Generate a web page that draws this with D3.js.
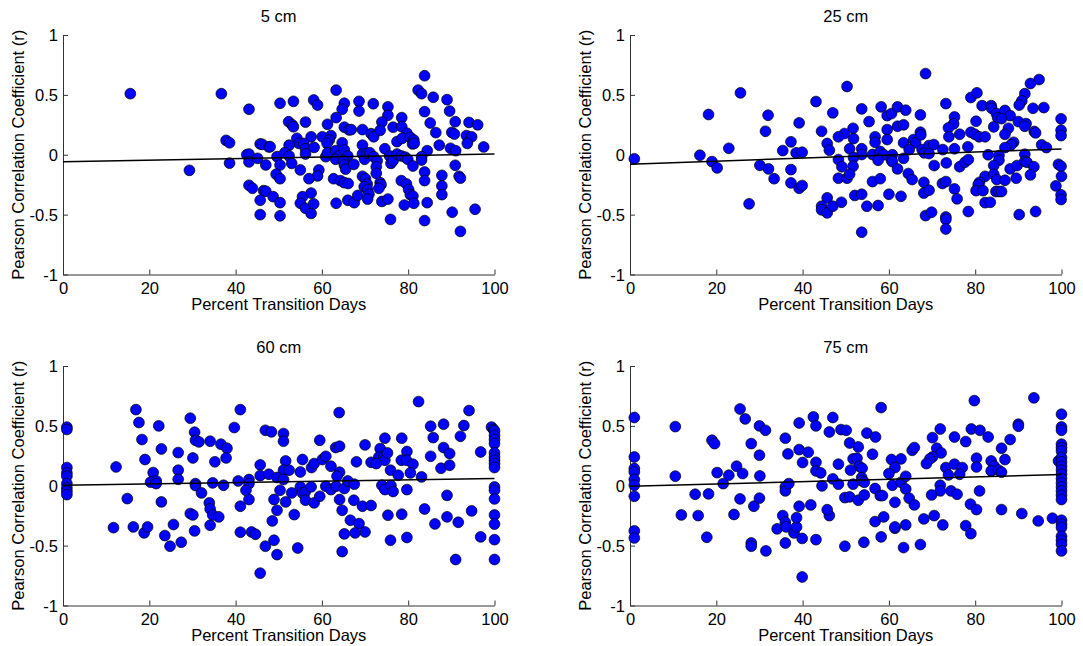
<!DOCTYPE html>
<html>
<head>
<meta charset="utf-8">
<script src="https://cdn.jsdelivr.net/npm/d3@7"></script>
<style>
  body { margin: 0; background: #fff; }
  svg { display: block; font-family: "Liberation Sans", Arial, sans-serif; }
</style>
</head>
<body>
<div id="chart"></div>
<script>
// 2x2 scatter panels: Pearson r vs percent transition days, by depth.
// Points as [percent, r].

const titles = ["5 cm", "25 cm", "60 cm", "75 cm"];
const xTicks = [0, 20, 40, 60, 80, 100];
const yTicks = [-1, -0.5, 0, 0.5, 1];

// linear fit lines, r = a + b*x
const fitIntercepts = [-0.058, -0.079, 0.004, -0.005];
const fitSlopes     = [0.00064, 0.00128, 0.00056, 0.00098];

const pts5cm = [
  [15.6,0.51],[36.7,0.51],[43.1,0.38],[37.8,0.12],[38.6,0.10],[29.3,-0.13],[38.6,-0.07],[45.7,0.09],[46.2,0.087],[47.7,0.065],
  [42.6,0.0],[43.1,0.006],[43.1,-0.06],[45.1,-0.03],[47,-0.085],[43.1,-0.255],[43.9,-0.28],[46.5,-0.30],[47,-0.305],[45.7,-0.38],[45.7,-0.50],
  [83.8,0.66],[63.3,0.54],[82.3,0.54],[83.1,0.51],[85.8,0.48],[89,0.46],[50.3,0.43],[53.4,0.446],[58.1,0.457],[59,0.415],
  [65.2,0.43],[64.7,0.38],[68.6,0.446],[68.6,0.365],[71.9,0.426],[75.3,0.40],[75.3,0.33],[89.6,0.365],[83.8,0.36],[63.3,0.31],
  [78.5,0.31],[52.3,0.276],[53.1,0.25],[53.4,0.234],[56.2,0.273],[61.3,0.254],[73.9,0.273],[85.1,0.265],[90.9,0.276],[94.1,0.27],
  [96.1,0.25],[65.2,0.23],[66.3,0.207],[66.8,0.21],[69.4,0.21],[71.4,0.176],[72,0.15],[73.5,0.204],[76.5,0.23],[78.5,0.234],
  [79.7,0.18],[86.4,0.185],[90.1,0.187],[90.7,0.173],[93.5,0.16],[94.7,0.15],[54.2,0.137],[57.5,0.15],[60.1,0.15],[62.1,0.16],
  [54.7,0.095],[55.8,0.095],[56.2,0.05],[56.2,0.006],[58.2,0.062],[52.4,0.08],[61.7,0.123],[61.2,0.095],[64.7,0.1],[69.4,0.08],
  [77.4,0.11],[78.6,0.137],[80.5,0.145],[81.3,0.123],[81,0.09],[81.4,0.095],[84.4,0.034],[87.2,0.08],[89.8,0.054],[91,0.034],
  [97.5,0.065],[93.7,0.095],[48,0.067],[49.6,-0.016],[51.4,0.017],[52.4,-0.01],[50.3,-0.086],[53,-0.072],[55,-0.127],[60.9,-0.016],
  [61.3,0.017],[63.2,0.034],[64,-0.01],[65.2,0.04],[66,-0.01],[63.2,-0.038],[65,-0.05],[65.2,-0.086],[65.5,-0.12],[67.4,-0.08],
  [69.4,0.006],[69.9,-0.038],[70.5,0.012],[71.1,0.017],[72,-0.016],[72.8,-0.05],[72.6,-0.1],[72.6,-0.155],[74.6,0.05],[75.7,-0.01],
  [76,-0.072],[76.5,-0.05],[77.4,0.006],[78.4,-0.01],[79.3,-0.02],[79.9,-0.038],[81.1,-0.094],[83.1,-0.016],[83.1,-0.044],[90.9,-0.088],
  [62.7,-0.2],[64.3,-0.216],[65.2,-0.233],[66.1,-0.24],[59.3,-0.127],[59,-0.177],[57,-0.2],[49.4,-0.163],[50.3,-0.2],[69.4,-0.18],
  [70.1,-0.2],[70.5,-0.245],[69.8,-0.267],[70.6,-0.29],[70.9,-0.33],[73.5,-0.233],[73.7,-0.25],[73.2,-0.28],[78.4,-0.216],[79.6,-0.244],
  [80.1,-0.29],[80.5,-0.333],[81.1,-0.345],[81.3,-0.405],[83.8,-0.144],[83.8,-0.216],[87.8,-0.172],[87.8,-0.26],[87.8,-0.333],[91.8,-0.18],
  [92.1,-0.195],[48.7,-0.35],[50.3,-0.4],[50.3,-0.51],[55.5,-0.35],[55,-0.405],[56.2,-0.447],[57.5,-0.49],[58.1,-0.41],[57.5,-0.32],
  [63.3,-0.405],[66,-0.38],[67.5,-0.4],[68.3,-0.34],[70.6,-0.37],[73.9,-0.39],[75.3,-0.37],[75.9,-0.54],[79.1,-0.42],[84.4,-0.4],
  [83.8,-0.55],[90.2,-0.48],[95.5,-0.455],[92.1,-0.64]
];

const pts25cm = [
  [1,-0.034],[16.2,-0.004],[18.2,0.336],[19,-0.057],[20.2,-0.11],[22.9,0.054],[25.6,0.517],[27.6,-0.41],[30.1,-0.088],[31.4,0.196],
  [32,0.33],[32.1,-0.118],[33.4,-0.2],[35.4,0.035],[37.3,0.108],[37.3,-0.124],[37.3,-0.235],[38.5,0.016],[39.9,0.021],[39.2,0.266],
  [39.2,-0.28],[39.9,-0.257],[43.1,0.444],[44.4,0.196],[45.7,0.094],[46.2,0.038],[45.7,-0.36],[44.4,-0.43],[44.4,-0.46],[45.7,-0.485],
  [68.5,0.678],[50.3,0.57],[94.8,0.628],[92.8,0.595],[91.5,0.51],[90.8,0.45],[90.2,0.415],[79,0.478],[80.4,0.517],[47,0.35],
  [53.7,0.383],[58.2,0.4],[59.6,0.327],[60.6,0.344],[62,0.4],[63.9,0.372],[67.3,0.333],[73.2,0.427],[75.2,0.316],[75,0.258],
  [81.6,0.41],[83.7,0.41],[83.8,0.388],[84.9,0.344],[85.2,0.31],[86.9,0.37],[88.1,0.327],[86.1,0.302],[93.4,0.388],[95.9,0.394],
  [99.9,0.3],[55.4,0.277],[51.7,0.221],[49.7,0.177],[48.3,0.15],[51.8,0.135],[56.8,0.15],[56.8,0.104],[59.6,0.21],[59.6,0.127],
  [62,0.238],[63.4,0.25],[63.4,0.1],[65.7,0.127],[66.2,0.1],[67.3,0.188],[67.4,0.166],[73.8,0.225],[73.9,0.15],[76.4,0.171],
  [79,0.188],[79.9,0.171],[80.9,0.15],[82.3,0.15],[80.2,0.28],[84.3,0.233],[87.7,0.221],[86.9,0.171],[90,0.277],[91.8,0.26],
  [91.5,0.238],[93.7,0.194],[94,0.183],[99.9,0.205],[99.9,0.16],[88.9,0.104],[88.3,0.083],[86.9,0.06],[95.4,0.083],[96.5,0.06],
  [50.9,0.05],[53.7,0.05],[53.7,0.002],[56.2,0.002],[58,0.027],[58.8,0],[57.5,-0.046],[60.8,0],[60.6,-0.046],[63.4,-0.03],
  [64.7,0.043],[67.7,0.043],[68.2,0.016],[69.3,0.077],[69.3,0.01],[70.4,0.085],[72.5,0.043],[75.2,0.05],[78.3,0.066],[48.3,-0.04],
  [51.8,-0.023],[51.7,-0.096],[49.1,-0.1],[60.8,-0.057],[62,-0.118],[70.5,-0.09],[73.3,-0.068],[76.4,-0.1],[77.6,-0.063],[78.4,-0.04],
  [83,0],[85.5,-0.007],[85.5,-0.046],[84.3,-0.09],[88.1,-0.118],[89.7,-0.09],[91.5,0.004],[91.5,-0.054],[92,-0.063],[93.6,-0.1],
  [92.8,-0.168],[99.3,-0.08],[99.9,-0.096],[100,-0.18],[98.7,-0.26],[99.9,-0.335],[99.9,-0.374],[48.3,-0.196],[50.3,-0.196],[50.9,-0.163],
  [56.2,-0.224],[58,-0.2],[64.5,-0.157],[65.4,-0.207],[68.1,-0.23],[68.1,-0.32],[69.3,-0.296],[72.4,-0.24],[73.2,-0.224],[75.2,-0.285],
  [75.8,-0.368],[82.3,-0.18],[81,-0.23],[80.7,-0.25],[80.2,-0.3],[81.8,-0.3],[84.3,-0.163],[85,-0.207],[86.9,-0.213],[84.8,-0.307],
  [85.5,-0.307],[86.1,-0.307],[89.5,-0.196],[47,-0.43],[49,-0.397],[52.1,-0.34],[53.7,-0.33],[54.9,-0.43],[57.5,-0.424],[60,-0.33],
  [62.8,-0.347],[68.5,-0.508],[69.9,-0.48],[73.2,-0.52],[73.2,-0.54],[73.2,-0.62],[78.4,-0.474],[82.3,-0.4],[83.5,-0.397],[90.2,-0.5],
  [94,-0.474],[53.7,-0.647]
];

const pts60cm = [
  [0.9,0.49],[0.9,0.47],[0.9,0.152],[0.9,0.107],[0.9,0.08],[0.9,0.018],[0.9,-0.018],[0.9,-0.046],[0.9,-0.074],[12.3,0.157],
  [11.7,-0.35],[14.9,-0.107],[16.3,-0.344],[16.9,0.636],[17.6,0.528],[18.3,0.386],[19,0.219],[18.8,-0.394],[19.6,-0.344],[20.9,0.11],
  [20.3,0.03],[21.6,0.04],[21.6,0.018],[22.2,0.5],[22.8,0.307],[22.8,-0.135],[23.6,-0.416],[24.8,-0.505],[25.6,-0.324],[26.7,0.277],
  [26.7,0.13],[26.7,0.054],[27.4,-0.472],[29.5,0.564],[30.5,0.447],[30.7,0.38],[31.5,0.366],[30.1,0.232],[30.7,0.018],[30.7,0.002],
  [32.1,-0.06],[29.5,-0.232],[30.1,-0.244],[30.5,-0.377],[34.1,0.372],[35.2,0.2],[34.7,0.024],[33.9,-0.143],[34.1,-0.194],[34.7,-0.244],
  [36.1,-0.26],[34.1,-0.33],[36.6,0.347],[38,0.313],[37.8,0.232],[37.2,0.004],[39.7,0.486],[41.1,0.636],[40.6,0.04],[41.1,-0.171],
  [41.1,-0.388],[43.1,0.052],[43.1,0.018],[42.4,-0.038],[43.1,-0.115],[43.7,-0.386],[44.6,-0.405],[45.7,0.174],[45.7,0.085],[47.7,0.096],
  [46.9,0.463],[48.3,0.45],[46.9,-0.505],[45.7,-0.73],
  [82.4,0.703],[64,0.611],[94.1,0.628],[85.2,0.497],[88.2,0.514],[85.8,0.402],[92.9,0.503],[92.1,0.413],[51.1,0.436],[51.1,0.372],
  [59.5,0.38],[63.2,0.319],[64.1,0.33],[70,0.341],[74.6,0.397],[73.5,0.31],[73.2,0.24],[74.3,0.24],[74.6,0.213],[75.2,0.274],
  [78.5,0.397],[79.7,0.286],[78.4,0.213],[79.6,0.213],[81.1,0.18],[88.2,0.319],[89.6,0.269],[85.2,0.246],[87.6,0.146],[89.6,0.171],
  [96.8,0.282],[51.6,0.207],[51.1,0.13],[52.4,0.13],[55.5,0.219],[55,0.115],[57.6,0.152],[58.2,0.185],[60.1,0.219],[60.9,0.246],
  [62.1,0.163],[64.1,0.113],[63.5,0.08],[68,0.2],[71.4,0.196],[72.6,0.185],[75.9,0.13],[77.7,0.088],[80.5,0.107],[83.1,0.074],
  [49.6,0.069],[51.1,0.052],[50.3,-0.038],[48.9,-0.115],[51.6,-0.135],[49.6,-0.205],[48.5,-0.294],[48.9,-0.455],[49.6,-0.575],[53,-0.06],
  [53.6,-0.241],[55,-0.01],[55.5,-0.06],[56.1,-0.054],[56.2,-0.121],[57.5,-0.01],[58.2,-0.143],[59.5,-0.088],[60.9,-0.004],[62.1,-0.032],
  [63.3,-0.004],[65.2,-0.023],[66,0.04],[67.5,0.013],[64.1,-0.115],[64.7,-0.205],[67.4,-0.121],[69.4,-0.171],[71.4,-0.165],[66.6,-0.288],
  [68.6,-0.316],[70,-0.386],[67.7,-0.394],[65.2,-0.402],[64.7,-0.55],[54.4,-0.52],[73.9,0.004],[74.6,-0.032],[76,0.002],[76.5,-0.048],
  [79.7,-0.032],[75.3,-0.246],[78.5,-0.238],[75.9,-0.455],[79.7,-0.432],[83.8,-0.194],[86.2,-0.319],[89,-0.08],[89,-0.26],[91.6,-0.305],
  [94.7,-0.21],[91,-0.616],[96.8,-0.427],
  [99.3,0.49],[99.8,0.47],[100,0.458],[100,0.42],[100,0.385],[100,0.352],[100,0.274],[100,0.24],[100,0.213],[100,0.185],
  [100,0.152],[100,-0.01],[100,-0.038],[100,-0.11],[100,-0.244],[100,-0.32],[100,-0.45],[100,-0.616]
];

const pts75cm = [
  [1,0.57],[1,0.24],[1,0.144],[1,0.115],[1,0.052],[1,0.004],[1,-0.088],[1,-0.377],[1,-0.436],[10.5,0.494],
  [10.5,0.08],[11.9,-0.244],[15.1,-0.071],[15.8,-0.249],[17.8,-0.43],[18.2,-0.068],[19,0.38],[19.6,0.352],[20.2,0.11],[21.6,0.018],
  [22.9,0.088],[24.1,-0.24],[24.7,0.163],[25.5,0.641],[25.5,-0.11],[26.1,0.102],[26.7,0.558],[28.1,0.352],[28.1,-0.478],[28.1,-0.505],
  [28.7,-0.171],[30,0.5],[31.4,0.463],[30,0.255],[30.1,0.082],[30,-0.104],[31.5,-0.544],[34.1,-0.36],[35.4,-0.249],[36,-0.305],
  [36.2,-0.344],[36,-0.478],[36,0.397],[36.6,0.266],[36,-0.01],[36,-0.043],[36.8,0.018],[38,-0.394],[38.6,-0.344],[38.6,-0.266],
  [39.2,0.524],[39.2,0.302],[40,0.194],[41.3,0.28],[39.2,-0.171],[39.9,-0.44],[39.9,-0.762],[41.9,-0.16],[42.5,0.575],[43.1,0.5],
  [43.1,0.196],[43.1,0.124],[44.2,0.107],[44.5,-0.001],[43.1,-0.45],[46.2,-0.249],[45.7,-0.2],[46.2,0.449],
  [93.6,0.734],[79.8,0.711],[58.2,0.653],[47,0.57],[48.9,0.469],[50.1,0.463],[54.9,0.44],[56.9,0.407],[71.9,0.474],[79.1,0.474],
  [81.1,0.463],[83,0.407],[90,0.514],[90,0.497],[88.1,0.386],[86.1,0.313],[75.2,0.407],[77.8,0.369],[70.1,0.402],[50.9,0.357],
  [52.9,0.324],[65.4,0.296],[65.9,0.319],[71.1,0.313],[72.1,0.274],[70.1,0.24],[69.5,0.224],[68.7,0.185],[56.2,0.263],[51.7,0.224],
  [52.6,0.23],[53.1,0.163],[53.8,0.146],[48.3,0.18],[51.1,0.13],[60.6,0.219],[62.8,0.224],[61.4,0.152],[60,0.102],[80.3,0.23],
  [80.3,0.157],[83.7,0.207],[84.4,0.163],[83.7,0.124],[85.4,0.13],[86.1,0.113],[86.9,0.219],[73.2,0.152],[75.2,0.18],[77,0.152],
  [73.8,0.09],[76.4,0.096],[47,0.057],[48.3,0.013],[51.7,0.013],[53.7,0.068],[53.8,0.04],[54.3,0.029],[60.8,0.004],[62.8,0.029],
  [63.9,0.079],[63.9,-0.027],[56.8,-0.023],[71.9,0.004],[71.9,-0.043],[74.4,-0.043],[75.8,-0.071],[69.9,-0.077],[49.8,-0.099],[50.9,-0.093],
  [52.9,-0.121],[54.3,-0.077],[58,-0.082],[58.5,-0.082],[61.4,-0.138],[64.7,-0.104],[65.9,-0.16],[81,-0.043],[78.9,-0.154],[80.3,-0.199],
  [86.1,-0.199],[56.8,-0.299],[58.8,-0.26],[61.4,-0.355],[61.4,-0.344],[63.9,-0.327],[68.1,-0.277],[70.5,-0.249],[72.5,-0.327],[77.8,-0.333],
  [79,-0.4],[90.8,-0.232],[94.6,-0.294],[97.9,-0.271],[49.8,-0.505],[54.2,-0.472],[58.2,-0.427],[63.4,-0.516],[67.3,-0.491],[99.3,0.207],
  [100,0.597],[100,0.491],[100,0.463],[100,0.347],[100,0.319],[100,0.29],[100,0.236],[100,0.199],[100,0.163],[100,0.13],
  [100,0.096],[100,0.06],[100,0.023],[100,-0.01],[100,-0.043],[100,-0.079],[100,-0.115],[100,-0.288],[100,-0.321],[100,-0.349],
  [100,-0.422],[100,-0.455],[100,-0.489],[100,-0.544]
];

const panelPoints = [pts5cm, pts25cm, pts60cm, pts75cm];

const W = 1083, H = 646;
const colLeft = [63, 630];
const rowTop = [35, 366];
const plotW = 431.5, plotH = 239.5;
const FONT = 16.5;
const AXIS_COLOR = "#333";

const svg = d3.select("#chart").append("svg")
  .attr("width", W)
  .attr("height", H);

function drawPanel(i){
  const col = i % 2, row = Math.floor(i / 2);
  const g = svg.append("g")
    .attr("transform", `translate(${colLeft[col]},${rowTop[row]})`);

  const x = d3.scaleLinear().domain([0, 100]).range([0, plotW]);
  const y = d3.scaleLinear().domain([-1, 1]).range([plotH, 0]);

  // axes, ticks pointing inward like matlab
  const xAxis = g.append("g")
    .attr("transform", `translate(0,${plotH})`)
    .call(d3.axisBottom(x).tickValues(xTicks).tickSizeInner(-5).tickSizeOuter(0).tickFormat(d => String(d)));
  xAxis.selectAll("text")
    .attr("y", 19).attr("dy", null)
    .style("font-size", FONT + "px").attr("fill", "#000");

  const yAxis = g.append("g")
    .call(d3.axisLeft(y).tickValues(yTicks).tickSizeInner(-5).tickSizeOuter(0).tickFormat(d => String(d)));
  yAxis.selectAll("text")
    .attr("x", -5).attr("dy", "0.36em")
    .style("font-size", FONT + "px").attr("fill", "#000");

  [xAxis, yAxis].forEach(a => {
    a.attr("font-family", null);
    a.select(".domain").attr("stroke", AXIS_COLOR);
    a.selectAll(".tick line").attr("stroke", AXIS_COLOR);
  });

  // scatter
  g.append("g").selectAll("circle")
    .data(panelPoints[i])
    .enter()
    .append("circle")
    .attr("cx", d => x(d[0]))
    .attr("cy", d => y(d[1]))
    .attr("r", 5.4)
    .attr("fill", "#0000ff")
    .attr("stroke", "#000")
    .attr("stroke-width", 0.7);

  // fit line over the points
  const fit = [0, 100].map(v => [v, fitIntercepts[i] + fitSlopes[i] * v]);
  g.append("path")
    .datum(fit)
    .attr("d", d3.line().x(d => x(d[0])).y(d => y(d[1])))
    .attr("fill", "none")
    .attr("stroke", "#000")
    .attr("stroke-width", 1.5);

  // labels
  g.append("text")
    .attr("x", plotW / 2).attr("y", -13)
    .attr("text-anchor", "middle")
    .style("font-size", FONT + "px")
    .text(titles[i]);

  g.append("text")
    .attr("x", plotW / 2).attr("y", plotH + 35.5)
    .attr("text-anchor", "middle")
    .style("font-size", FONT + "px")
    .text("Percent Transition Days");

  g.append("text")
    .attr("transform", `translate(-39,${plotH / 2}) rotate(-90)`)
    .attr("text-anchor", "middle")
    .style("font-size", FONT + "px")
    .text("Pearson Correlation Coefficient (r)");
}

titles.forEach((t, i) => drawPanel(i));
</script>
</body>
</html>
